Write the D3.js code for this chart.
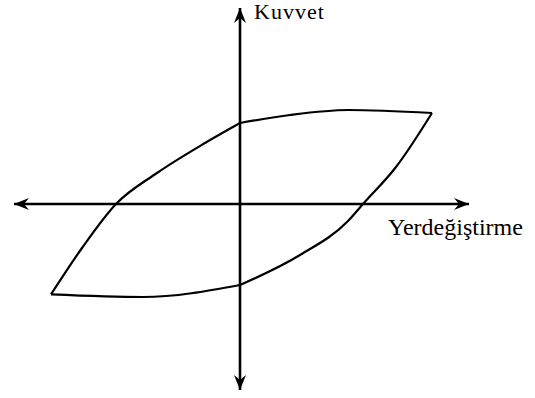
<!DOCTYPE html>
<html>
<head>
<meta charset="utf-8">
<script src="https://cdn.jsdelivr.net/npm/d3@7"></script>
<style>
    body { margin: 0; background: #fff; }
    svg { display: block; }
    .label { font-family: "Liberation Serif", "Times New Roman", serif; font-size: 24px; fill: #000; }
</style>
</head>
<body>
<div id="chart"></div>
<script>
// displacement / force values of the loop (arbitrary units)
let loadingX = [-4.725, -3.95, -3.1, -2.075, -0.875, 0];
let loadingY = [-2.26, -1.1, 0, 0.775, 1.525, 2.025];
let upperX = [0, 1.25, 2.7, 4.8];
let upperY = [2.025, 2.225, 2.35, 2.275];
let unloadingX = [0, 1.5, 2.7, 3.075, 3.9, 4.8];
let unloadingY = [-2.025, -1.275, -0.425, 0, 0.925, 2.275];
let lowerX = [-4.725, -2.425, 0];
let lowerY = [-2.26, -2.325, -2.025];

// axis extents
let axisX = [-5.65, 5.725];
let axisY = [-4.65, 4.9];
let xTitle = "Yerdeğiştirme";
let yTitle = "Kuvvet";

let width = 535;
let height = 398;

let svg = d3.select("#chart").append("svg")
    .attr("width", width)
    .attr("height", height);

let x = d3.scaleLinear().domain([-6, 6]).range([0, 480]);
let y = d3.scaleLinear().domain([-5, 5]).range([404, 4]);

// axes
svg.append("line")
    .attr("x1", x(axisX[0])).attr("x2", x(axisX[1]))
    .attr("y1", y(0)).attr("y2", y(0))
    .attr("stroke", "#000").attr("stroke-width", 2.6);
svg.append("line")
    .attr("x1", x(0)).attr("x2", x(0))
    .attr("y1", y(axisY[0])).attr("y2", y(axisY[1]))
    .attr("stroke", "#000").attr("stroke-width", 2.6);

// arrow heads, tip at origin pointing right
let head = "M0,0 L-15,-6 L-10,0 L-15,6 Z";
let heads = [
    {px: x(axisX[1]), py: y(0), angle: 0},
    {px: x(axisX[0]), py: y(0), angle: 180},
    {px: x(0), py: y(axisY[1]), angle: -90},
    {px: x(0), py: y(axisY[0]), angle: 90}
];
svg.selectAll("path.head").data(heads).join("path")
    .attr("class", "head")
    .attr("d", head)
    .attr("fill", "#000")
    .attr("transform", d => "translate(" + d.px + "," + d.py + ") rotate(" + d.angle + ")");

// hysteresis loop, four pieces
let line = d3.line()
    .x(d => x(d[0]))
    .y(d => y(d[1]))
    .curve(d3.curveMonotoneX);

let pieces = [
    d3.zip(loadingX, loadingY),
    d3.zip(upperX, upperY),
    d3.zip(unloadingX, unloadingY),
    d3.zip(lowerX, lowerY)
];
svg.selectAll("path.loop").data(pieces).join("path")
    .attr("class", "loop")
    .attr("d", line)
    .attr("fill", "none")
    .attr("stroke", "#000")
    .attr("stroke-width", 2.2)
    .attr("stroke-linejoin", "round");

// titles
svg.append("text").attr("class", "label")
    .attr("x", x(0) + 14).attr("y", 19)
    .style("font-size", "22px")
    .style("letter-spacing", "1px")
    .text(yTitle);
svg.append("text").attr("class", "label")
    .attr("x", 388).attr("y", 235)
    .text(xTitle);
</script>
</body>
</html>
